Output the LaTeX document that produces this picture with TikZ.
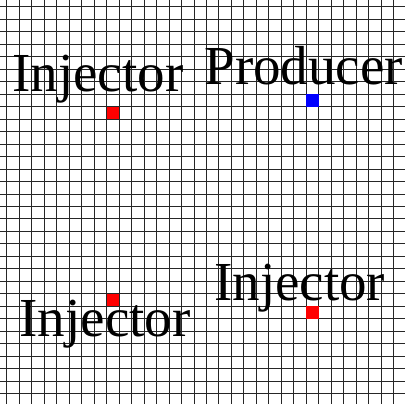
\documentclass[tikz,border=0pt]{standalone}
\usepackage{fontspec}
\setmainfont{Liberation Serif}
\usepackage{tikz}

\begin{document}
\begin{tikzpicture}[
  x=12.47pt, y=-12.47pt,
  gridline/.style={black!85, line width=1pt},
  well/.style={inner sep=0pt, minimum size=12.47pt, anchor=north west},
  lbl/.style={inner sep=0pt, anchor=base west, font=\fontsize{55}{62}\selectfont}
]
\useasboundingbox (-0.561,-0.561) rectangle (31.916,31.836);
\fill[white] (-0.561,-0.561) rectangle (31.916,31.836);
% reservoir cells
\foreach \i in {0,...,31} {
  \draw[gridline] (\i,-0.561) -- (\i,31.836);
  \draw[gridline] (-0.561,\i) -- (31.916,\i);
}
% wells
\node[well, fill=red]  (inj1) at (8,8) {};
\node[well, fill=blue] (prod) at (24,7) {};
\node[well, fill=red]  (inj2) at (24,24) {};
\node[well, fill=red]  (inj3) at (8,23) {};
% labels
\node[lbl] (inj1lbl) at (0.42,6.79) {Injector};
\node[lbl] (prodlbl) at (15.82,6.25) {Producer};
\node[lbl] (inj2lbl) at (16.6,23.5) {Injector};
\node[lbl] (inj3lbl) at (1.0,26.44) {Injector};
\end{tikzpicture}
\end{document}
